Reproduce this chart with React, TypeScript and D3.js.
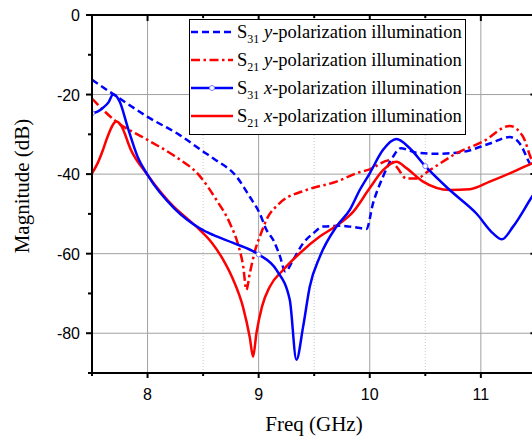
import * as d3 from 'd3';
import React, { useEffect, useRef } from 'react';

// frequency (GHz) and magnitude (dB)
const s31yFreq = [7.5, 7.75, 8.0, 8.29, 8.5, 8.6, 8.8, 8.92, 9.01, 9.07, 9.13, 9.19, 9.24, 9.31, 9.4, 9.49, 9.58, 9.73, 9.82, 9.9, 9.97, 10.03, 10.12, 10.21, 10.28, 10.35, 10.42, 10.6, 10.84, 11.08, 11.26, 11.35, 11.44, 11.5];
const s31yDb = [-16.3, -21, -25.6, -30.2, -34.3, -36.2, -40.6, -45.7, -49.9, -54, -56.5, -60.5, -64.5, -61.6, -57.4, -54.9, -53.2, -53, -53.2, -53.5, -53.8, -47.3, -40.6, -35.6, -33.5, -34, -34.6, -34.9, -34.4, -32.3, -30.7, -32.3, -37.3, -40];

const s21yFreq = [7.5, 7.7, 8.0, 8.24, 8.47, 8.62, 8.74, 8.82, 8.86, 8.89, 8.92, 8.97, 9.02, 9.07, 9.19, 9.43, 9.7, 9.88, 10.0, 10.18, 10.24, 10.33, 10.42, 10.54, 10.78, 11.02, 11.26, 11.38, 11.46, 11.5];
const s21yDb = [-21, -26.4, -31.4, -35.4, -40.5, -46.5, -52.3, -58.2, -63, -69.1, -65, -59, -55, -51.5, -47.3, -44, -41.9, -39.8, -38.8, -36.5, -38.1, -41.1, -41.1, -39, -34.8, -31.8, -27.9, -30.6, -36.5, -38];

const s31xFreq = [7.5, 7.55, 7.6, 7.65, 7.69, 7.75, 7.82, 7.91, 8.0, 8.24, 8.47, 8.59, 8.77, 9.0, 9.16, 9.28, 9.34, 9.4, 9.46, 9.55, 9.7, 9.82, 9.91, 10.0, 10.12, 10.24, 10.36, 10.5, 10.72, 10.96, 11.11, 11.19, 11.29, 11.46, 11.5];
const s31xDb = [-24.7, -24.3, -23.3, -21.9, -19.9, -21.8, -28.1, -35.6, -40.2, -48.6, -53.6, -55.3, -57.3, -60.2, -64.1, -71.6, -86.7, -78.4, -68.3, -60.8, -53.2, -49, -44, -39.8, -33.9, -31.2, -33.5, -38, -44, -49.9, -54.9, -56.4, -53.2, -45.7, -44];

const s21xFreq = [7.5, 7.55, 7.6, 7.64, 7.72, 7.76, 7.85, 8.0, 8.24, 8.35, 8.47, 8.58, 8.68, 8.77, 8.86, 8.92, 8.95, 8.98, 9.03, 9.1, 9.22, 9.37, 9.55, 9.7, 9.85, 10.0, 10.12, 10.24, 10.33, 10.48, 10.72, 10.9, 11.08, 11.26, 11.46, 11.5];
const s21xDb = [-39.8, -37.3, -33.8, -30.6, -26.8, -27.7, -33.9, -40.2, -48.3, -51, -54, -57.3, -61.5, -66.5, -73.5, -81, -85.9, -80, -73.3, -68.3, -64.1, -59.9, -55.7, -53, -49.5, -43.5, -39, -36.9, -38.5, -41.9, -44, -43.8, -41.9, -39.8, -37.3, -36.8];

// S31 x-polarization markers sit on these data points
const markerFreq = [7.5, 9.0, 10.5];

const xTicks = [8, 9, 10, 11];
const yTicks = [0, -20, -40, -60, -80];

const legendItems = [
  { sub: '31', pol: 'y', color: '#0000ff', dash: '7,4', marker: false },
  { sub: '21', pol: 'y', color: '#ff0000', dash: '9,3.5,2.5,3.5', marker: false },
  { sub: '31', pol: 'x', color: '#0000ff', dash: null, marker: true },
  { sub: '21', pol: 'x', color: '#ff0000', dash: null, marker: false },
];

function App() {
  const ref = useRef(null);

  useEffect(() => {
    const svg = d3.select(ref.current);
    svg.selectAll('*').remove();

    const left = 92, top = 15, bottom = 373;
    const x = d3.scaleLinear().domain([7.5, 11.5]).range([left, left + 4 * 111.1]);
    const y = d3.scaleLinear().domain([-90, 0]).range([bottom, top]);
    const right = x(11.5);

    // grid
    const grid = svg.append('g');
    grid.selectAll('.vminor').data([8.5, 9.5, 10.5]).enter().append('line')
      .attr('x1', d => x(d)).attr('x2', d => x(d)).attr('y1', top).attr('y2', bottom)
      .attr('stroke', '#c8c8c8').attr('stroke-width', 1).attr('stroke-dasharray', '1,2');
    grid.selectAll('.vmajor').data(xTicks).enter().append('line')
      .attr('x1', d => x(d)).attr('x2', d => x(d)).attr('y1', top).attr('y2', bottom)
      .attr('stroke', '#a0a0a0').attr('stroke-width', 1);
    grid.selectAll('.hmajor').data([-20, -40, -60, -80]).enter().append('line')
      .attr('x1', left).attr('x2', right).attr('y1', d => y(d)).attr('y2', d => y(d))
      .attr('stroke', '#a0a0a0').attr('stroke-width', 1);

    svg.append('clipPath').attr('id', 'plot-clip').append('rect')
      .attr('x', left).attr('y', top).attr('width', right - left).attr('height', bottom - top);

    const line = d3.line<[number, number]>()
      .x(d => x(d[0])).y(d => y(d[1]))
      .curve(d3.curveMonotoneX);

    const series = [
      { f: s31yFreq, v: s31yDb, color: '#0000ff', dash: '7,4' },
      { f: s21yFreq, v: s21yDb, color: '#ff0000', dash: '9,3.5,2.5,3.5' },
      { f: s21xFreq, v: s21xDb, color: '#ff0000', dash: null },
      { f: s31xFreq, v: s31xDb, color: '#0000ff', dash: null },
    ];
    const curves = svg.append('g').attr('clip-path', 'url(#plot-clip)');
    series.forEach(s => {
      curves.append('path')
        .datum(s.f.map((f, i) => [f, s.v[i]] as [number, number]))
        .attr('fill', 'none')
        .attr('stroke', s.color)
        .attr('stroke-width', 2.5)
        .attr('stroke-dasharray', s.dash)
        .attr('d', line);
    });
    curves.selectAll('.mk').data(markerFreq).enter().append('circle')
      .attr('cx', d => x(d))
      .attr('cy', d => y(s31xDb[s31xFreq.indexOf(d)]))
      .attr('r', 2.5)
      .attr('fill', 'white').attr('stroke', '#8080ff').attr('stroke-width', 1);

    // axes
    const ax = svg.append('g').attr('stroke', 'black').attr('stroke-width', 2);
    ax.append('line').attr('x1', left).attr('x2', left).attr('y1', top).attr('y2', bottom + 1);
    ax.append('line').attr('x1', left - 1).attr('x2', right).attr('y1', bottom).attr('y2', bottom);
    ax.append('line').attr('x1', left - 1).attr('x2', right).attr('y1', top).attr('y2', top);
    ax.append('line').attr('x1', right).attr('x2', right).attr('y1', top).attr('y2', bottom);

    const xAll = d3.range(7.5, 11.51, 0.5);
    const yAll = d3.range(-90, 0.1, 10);
    xAll.forEach(v => {
      const major = Number.isInteger(v);
      ax.append('line').attr('x1', x(v)).attr('x2', x(v))
        .attr('y1', bottom).attr('y2', bottom + (major ? 5 : 3));
      ax.append('line').attr('x1', x(v)).attr('x2', x(v))
        .attr('y1', top).attr('y2', top + (major ? 6 : 3));
    });
    yAll.forEach(v => {
      const major = v % 20 === 0;
      ax.append('line').attr('x1', left).attr('x2', left - (major ? 6 : 4))
        .attr('y1', y(v)).attr('y2', y(v));
      ax.append('line').attr('x1', right).attr('x2', right - (major ? 6 : 3))
        .attr('y1', y(v)).attr('y2', y(v));
    });

    const tickFont = '"Liberation Sans", Arial, sans-serif';
    svg.selectAll('.xl').data(xTicks).enter().append('text')
      .attr('x', d => x(d)).attr('y', bottom + 27)
      .attr('text-anchor', 'middle').attr('font-family', tickFont).attr('font-size', 16)
      .text(d => d);
    svg.selectAll('.yl').data(yTicks).enter().append('text')
      .attr('x', left - 12).attr('y', d => y(d) + 6)
      .attr('text-anchor', 'end').attr('font-family', tickFont).attr('font-size', 16)
      .text(d => d);

    const serif = '"Liberation Serif", "Times New Roman", serif';
    svg.append('text').attr('x', 314).attr('y', 431)
      .attr('text-anchor', 'middle').attr('font-family', serif).attr('font-size', 21)
      .text('Freq (GHz)');
    svg.append('text').attr('transform', 'translate(29,186) rotate(-90)')
      .attr('text-anchor', 'middle').attr('font-family', serif).attr('font-size', 21)
      .text('Magnitude (dB)');

    // legend
    const lg = svg.append('g');
    lg.append('rect').attr('x', 189.5).attr('y', 19.5).attr('width', 276).attr('height', 115)
      .attr('fill', 'white').attr('stroke', 'black').attr('stroke-width', 1);
    legendItems.forEach((it, i) => {
      const cy = 32 + i * 28;
      lg.append('line').attr('x1', 191).attr('x2', 233).attr('y1', cy).attr('y2', cy)
        .attr('stroke', it.color).attr('stroke-width', 2.5).attr('stroke-dasharray', it.dash);
      if (it.marker) {
        lg.append('circle').attr('cx', 212).attr('cy', cy).attr('r', 2.5)
          .attr('fill', 'white').attr('stroke', '#8080ff').attr('stroke-width', 1);
      }
      const t = lg.append('text').attr('x', 237).attr('y', cy + 6)
        .attr('font-family', serif).attr('font-size', 18.5);
      t.append('tspan').text('S');
      t.append('tspan').attr('font-size', 12).attr('dy', 5).text(it.sub);
      t.append('tspan').attr('dy', -5).text(' ');
      t.append('tspan').attr('font-style', 'italic').text(it.pol);
      t.append('tspan').text('-polarization illumination');
    });
  }, []);

  return (
    <svg ref={ref} width={532} height={441}
      style={{ position: 'fixed', left: 0, top: 0, background: 'white' }} />
  );
}

export default App;
